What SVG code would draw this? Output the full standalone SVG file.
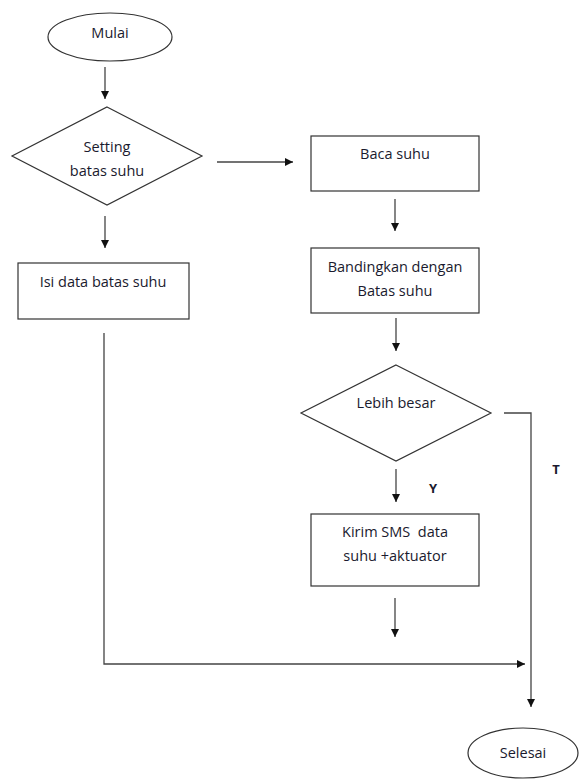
<svg xmlns="http://www.w3.org/2000/svg" width="579" height="779" viewBox="0 0 579 779">
<style>
.shape{fill:#fff;stroke:#333;stroke-width:1.2}
.line{fill:none;stroke:#444;stroke-width:1.3}
text{font-family:"Open Sans","Liberation Sans",sans-serif;font-size:14.5px;fill:#1a1a2e;text-anchor:middle}
.b{font-weight:bold;font-size:13px}
</style>
<defs>
<marker id="ah" viewBox="0 0 10 10" refX="10" refY="5" markerWidth="8" markerHeight="8" markerUnits="userSpaceOnUse" orient="auto">
<path d="M0,0 L10,5 L0,10 z" fill="#111"/>
</marker>
</defs>
<rect width="579" height="779" fill="#fff"/>
<g id="connectors">
<line class="line" x1="105" y1="67" x2="105" y2="99" marker-end="url(#ah)"/>
<line class="line" x1="217" y1="162" x2="293" y2="162" marker-end="url(#ah)"/>
<line class="line" x1="105" y1="216" x2="105" y2="248" marker-end="url(#ah)"/>
<line class="line" x1="395" y1="199" x2="395" y2="231" marker-end="url(#ah)"/>
<line class="line" x1="396" y1="318" x2="396" y2="351" marker-end="url(#ah)"/>
<polyline class="line" points="504,413 531,413 531,707" marker-end="url(#ah)"/>
<line class="line" x1="396" y1="469" x2="396" y2="502" marker-end="url(#ah)"/>
<line class="line" x1="395" y1="598" x2="395" y2="637" marker-end="url(#ah)"/>
<polyline class="line" points="104,333 104,664 525,664" marker-end="url(#ah)"/>
<text class="b" x="433" y="493">Y</text>
<text class="b" x="556" y="474">T</text>
</g>
<g id="mulai">
<ellipse class="shape" cx="110" cy="37" rx="62" ry="24"/>
<text x="110" y="38">Mulai</text>
</g>
<g id="setting">
<polygon class="shape" points="107,107 202,156 107,205 12,156"/>
<text x="107" y="152">Setting</text>
<text x="107" y="176">batas suhu</text>
</g>
<g id="isi">
<rect class="shape" x="18" y="263" width="171" height="56"/>
<text x="103" y="287">Isi data batas suhu</text>
</g>
<g id="baca">
<rect class="shape" x="311" y="136" width="168" height="55"/>
<text x="395" y="159">Baca suhu</text>
</g>
<g id="bandingkan">
<rect class="shape" x="311" y="248" width="168" height="65"/>
<text x="395" y="272">Bandingkan dengan</text>
<text x="395" y="296">Batas suhu</text>
</g>
<g id="lebih">
<polygon class="shape" points="396,365 491,413 396,461 301,413"/>
<text x="396" y="408">Lebih besar</text>
</g>
<g id="kirim">
<rect class="shape" x="311" y="514" width="168" height="72"/>
<text x="395" y="537" xml:space="preserve">Kirim SMS  data</text>
<text x="395" y="561">suhu +aktuator</text>
</g>
<g id="selesai">
<ellipse class="shape" cx="523" cy="753" rx="55" ry="25"/>
<text x="523" y="758">Selesai</text>
</g>
</svg>
